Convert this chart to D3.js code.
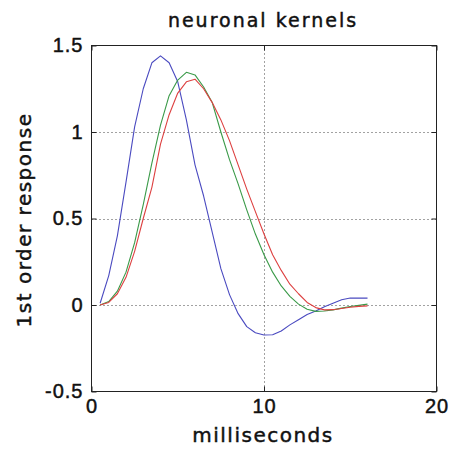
<!DOCTYPE html>
<html>
<head>
<meta charset="utf-8">
<script src="https://cdn.jsdelivr.net/npm/d3@7"></script>
<style>
  html, body { margin: 0; padding: 0; background: #fff; }
  svg { display: block; font-family: "DejaVu Sans", sans-serif; }
  text { stroke: #111; stroke-width: 0.45px; }
</style>
</head>
<body>
<svg id="chart" width="458" height="452"></svg>
<script>
// Time samples (ms) shared by the three kernels
const timeMs = [0.5, 1, 1.5, 2, 2.5, 3, 3.5, 4, 4.5, 5, 5.5, 6, 6.5, 7, 7.5, 8,
                8.5, 9, 9.5, 10, 10.5, 11, 11.5, 12, 12.5, 13, 13.5, 14, 14.5, 15, 15.5, 16];

// First-order kernel responses
const kernelBlue = [0.01, 0.17, 0.40, 0.71, 1.03, 1.25, 1.40, 1.44, 1.40, 1.29, 1.07, 0.81,
                    0.63, 0.42, 0.21, 0.06, -0.05, -0.125, -0.16, -0.173, -0.172, -0.15, -0.115, -0.085,
                    -0.055, -0.035, -0.01, 0.01, 0.03, 0.04, 0.04, 0.04];
const kernelGreen = [0, 0.02, 0.08, 0.19, 0.36, 0.58, 0.82, 1.04, 1.21, 1.30, 1.345, 1.33,
                     1.26, 1.17, 1.00, 0.84, 0.70, 0.55, 0.41, 0.29, 0.19, 0.11, 0.05, 0.005,
                     -0.025, -0.037, -0.035, -0.028, -0.018, -0.009, -0.002, 0.005];
const kernelRed = [0, 0.015, 0.065, 0.16, 0.31, 0.50, 0.68, 0.93, 1.10, 1.225, 1.29, 1.305,
                   1.25, 1.17, 1.07, 0.95, 0.81, 0.67, 0.54, 0.41, 0.29, 0.20, 0.12, 0.065,
                   0.015, -0.015, -0.028, -0.027, -0.02, -0.013, -0.008, -0.005];

const seriesColors = ["#4a4ac0", "#3a9a48", "#dd4040"];

// Axis ticks and labels
const xTicks = [0, 10, 20];
const xTickLabels = ["0", "10", "20"];
const yTicks = [-0.5, 0, 0.5, 1, 1.5];
const yTickLabels = ["-0.5", "0", "0.5", "1", "1.5"];
const xGrid = [10];
const yGrid = [0, 0.5, 1];

const titleText = "neuronal kernels";
const xLabelText = "milliseconds";
const yLabelText = "1st order response";

const plotLeft = 91.5, plotRight = 436.5, plotTop = 45.5, plotBottom = 391.5;

const svg = d3.select("#chart");
const x = d3.scaleLinear().domain([0, 20]).range([plotLeft, plotRight]);
const y = d3.scaleLinear().domain([-0.5, 1.5]).range([plotBottom, plotTop]);

// Dotted grid
const grid = svg.append("g")
  .attr("stroke", "#444").attr("stroke-width", 1).attr("stroke-dasharray", "1,3");
grid.selectAll("line.gx").data(xGrid).join("line")
  .attr("x1", d => Math.round(x(d)) + 0.5).attr("x2", d => Math.round(x(d)) + 0.5)
  .attr("y1", plotTop).attr("y2", plotBottom);
grid.selectAll("line.gy").data(yGrid).join("line")
  .attr("y1", d => Math.round(y(d)) + 0.5).attr("y2", d => Math.round(y(d)) + 0.5)
  .attr("x1", plotLeft).attr("x2", plotRight);

// Kernel lines
const series = [kernelBlue, kernelGreen, kernelRed];
const line = d3.line().x((d, i) => x(timeMs[i])).y(d => y(d));
svg.append("g").selectAll("path").data(series).join("path")
  .attr("d", d => line(d))
  .attr("fill", "none")
  .attr("stroke", (d, i) => seriesColors[i])
  .attr("stroke-width", 1.1)
  .attr("stroke-linejoin", "round");

// Axes with inward ticks
const fmtX = d => xTickLabels[xTicks.indexOf(d)];
const fmtY = d => yTickLabels[yTicks.indexOf(d)];

function styleAxis(g) {
  g.select(".domain").remove();
  g.selectAll(".tick line").attr("stroke", "#222");
  g.selectAll(".tick text")
    .attr("fill", "#111")
    .attr("font-size", 20)
    .attr("letter-spacing", "1px");
}

svg.append("g").attr("transform", `translate(0,${plotBottom})`)
  .call(d3.axisBottom(x).tickValues(xTicks).tickFormat(fmtX).tickSize(-5).tickPadding(7))
  .call(styleAxis);
svg.append("g").attr("transform", `translate(0,${plotTop})`)
  .call(d3.axisTop(x).tickValues(xTicks).tickFormat("").tickSize(-5))
  .call(styleAxis);
svg.append("g").attr("transform", `translate(${plotLeft},0)`)
  .call(d3.axisLeft(y).tickValues(yTicks).tickFormat(fmtY).tickSize(-5).tickPadding(8))
  .call(styleAxis);
svg.append("g").attr("transform", `translate(${plotRight},0)`)
  .call(d3.axisRight(y).tickValues(yTicks).tickFormat("").tickSize(-5))
  .call(styleAxis);

// Plot frame
svg.append("rect")
  .attr("x", plotLeft).attr("y", plotTop)
  .attr("width", plotRight - plotLeft).attr("height", plotBottom - plotTop)
  .attr("fill", "none").attr("stroke", "#222").attr("stroke-width", 1);

// Titles
svg.append("text")
  .attr("x", 263).attr("y", 27)
  .attr("text-anchor", "middle")
  .attr("font-size", 19).attr("letter-spacing", "2px")
  .attr("fill", "#111")
  .text(titleText);

svg.append("text")
  .attr("x", 263).attr("y", 442)
  .attr("text-anchor", "middle")
  .attr("font-size", 20).attr("letter-spacing", "1.5px")
  .attr("fill", "#111")
  .text(xLabelText);

svg.append("text")
  .attr("transform", "translate(31,220) rotate(-90)")
  .attr("text-anchor", "middle")
  .attr("font-size", 20).attr("letter-spacing", "1.5px")
  .attr("fill", "#111")
  .text(yLabelText);
</script>
</body>
</html>
